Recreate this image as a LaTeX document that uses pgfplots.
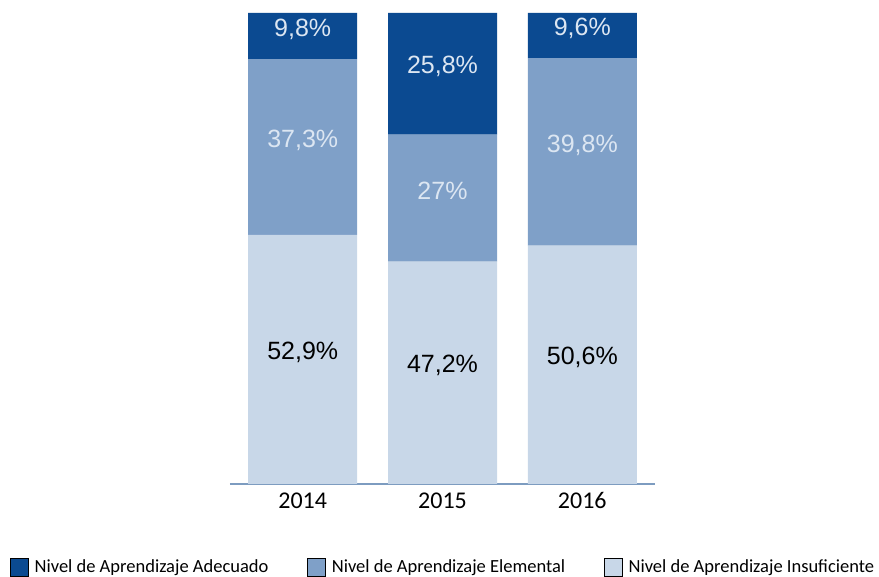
\documentclass[border=0pt]{standalone}
\usepackage{fontspec}
\setmainfont{Liberation Sans}
\newfontfamily\carlito{Carlito}
\usepackage{pgfplots}
\pgfplotsset{compat=1.18}

\definecolor{adecuado}{HTML}{0B4A91}
\definecolor{elemental}{HTML}{7FA0C8}
\definecolor{insuf}{HTML}{C8D7E8}
\definecolor{axisline}{HTML}{7D9CC0}
\definecolor{lighttext}{HTML}{DCE6F2}

\begin{document}
\begin{tikzpicture}
\useasboundingbox (0,0) rectangle (879pt,577pt);
\begin{axis}[
    at={(230pt,93pt)}, anchor=south west,
    scale only axis,
    width=425pt, height=471pt,
    ybar stacked, bar width=109pt,
    xmin=-0.52, xmax=2.52,
    ymin=0, ymax=100,
    axis x line*=bottom, axis y line=none,
    x axis line style={draw=axisline, line width=1.6pt, -},
    xtick={0,1,2}, xticklabels={2014,2015,2016},
    major tick length=0pt,
    x tick label style={font=\carlito\fontsize{24}{28}\selectfont, yshift=-5pt},
    point meta=explicit symbolic,
    nodes near coords={\pgfplotspointmeta},
    every node near coord/.append style={
        anchor=center, font=\fontsize{25}{29}\selectfont, yshift=7pt},
    legend columns=3,
    legend style={at={(-0.5176,-0.176)}, anchor=west, draw=none, fill=none,
        inner sep=0pt, nodes={inner sep=0pt},
        font=\carlito\fontsize{18.5}{21}\selectfont,
        /tikz/every odd column/.append style={column sep=6pt},
        /tikz/every even column/.append style={column sep=39pt}},
    legend image code/.code={\fill[#1] (0pt,-9pt) rectangle (18pt,9pt);},
]
\addlegendimage{fill=adecuado}
\addlegendentry{Nivel de Aprendizaje Adecuado}
\addlegendimage{fill=elemental}
\addlegendentry{Nivel de Aprendizaje Elemental}
\addlegendimage{fill=insuf}
\addlegendentry{Nivel de Aprendizaje Insuficiente}

\addplot[fill=insuf, draw=none, forget plot,
    every node near coord/.append style={text=black}]
    coordinates {(0,52.9) [52,9\%] (1,47.2) [47,2\%] (2,50.6) [50,6\%]};
\addplot[fill=elemental, draw=none, forget plot,
    every node near coord/.append style={text=lighttext}]
    coordinates {(0,37.3) [37,3\%] (1,27.0) [27\%] (2,39.8) [39,8\%]};
\addplot[fill=adecuado, draw=none, forget plot,
    every node near coord/.append style={text=lighttext}]
    coordinates {(0,9.8) [9,8\%] (1,25.8) [25,8\%] (2,9.6) [9,6\%]};
\end{axis}
\end{tikzpicture}
\end{document}
